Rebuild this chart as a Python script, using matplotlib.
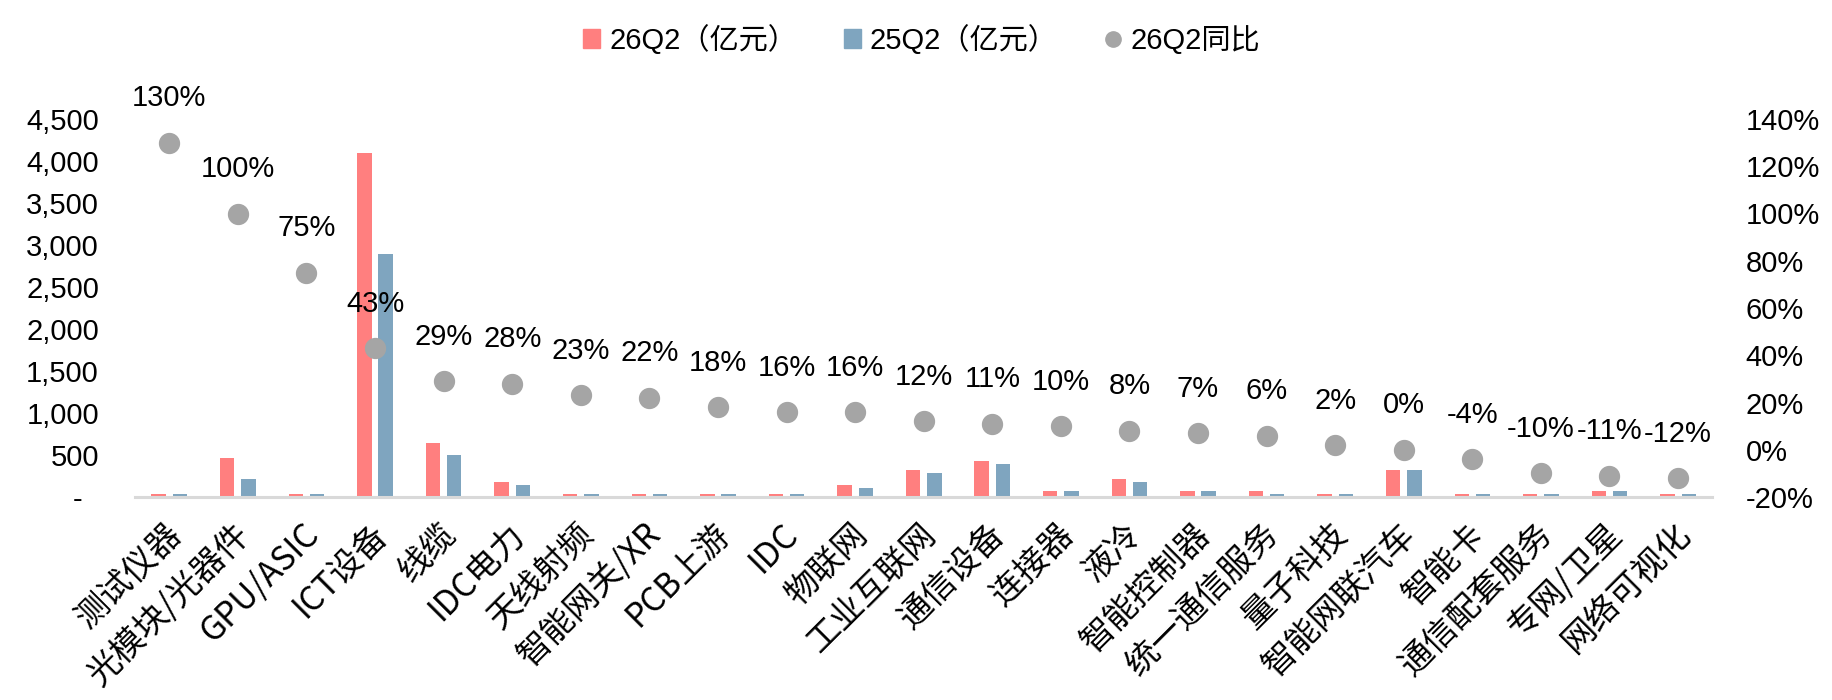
import matplotlib

matplotlib.use("Agg")
import matplotlib.pyplot as plt
import matplotlib.transforms as mtransforms
import numpy as np
from matplotlib.lines import Line2D
from matplotlib.patches import Patch
from matplotlib.ticker import FixedLocator, FuncFormatter

plt.rcParams["font.family"] = ["Liberation Sans", "Noto Sans CJK SC", "DejaVu Sans"]

categories = ["测试仪器", "光模块/光器件", "GPU/ASIC", "ICT设备", "线缆", "IDC电力",
              "天线射频", "智能网关/XR", "PCB上游", "IDC", "物联网", "工业互联网",
              "通信设备", "连接器", "液冷", "智能控制器", "统一通信服务", "量子科技",
              "智能网联汽车", "智能卡", "通信配套服务", "专网/卫星", "网络可视化"]
rev_26q2 = [40, 468, 40, 4100, 647, 183, 40, 40, 40, 40, 147, 325,
            433, 75, 218, 75, 75, 40, 325, 40, 40, 75, 40]
rev_25q2 = [40, 218, 40, 2890, 504, 147, 40, 40, 40, 40, 111, 290,
            397, 75, 183, 75, 40, 40, 325, 40, 40, 75, 40]
yoy_26q2 = [1.30, 1.00, 0.75, 0.43, 0.29, 0.28, 0.23, 0.22, 0.18, 0.16, 0.16, 0.12,
            0.11, 0.10, 0.08, 0.07, 0.06, 0.02, 0.00, -0.04, -0.10, -0.11, -0.12]

RED = "#FF7F7F"
BLUE = "#7FA5BF"
GREY = "#A5A5A5"
CJK = ["Noto Sans CJK SC", "DejaVu Sans"]

fig = plt.figure(figsize=(18.32, 7.0), dpi=100)
ax = fig.add_axes([0.0737, 0.29, 0.861, 0.54])
x = np.arange(len(categories))
ax.bar(x - 0.155, rev_26q2, width=0.21, color=RED)
ax.bar(x + 0.155, rev_25q2, width=0.21, color=BLUE)

ax.set_xlim(-0.5, len(categories) - 0.5)
ax.set_ylim(0, 4500)
ax.yaxis.set_major_locator(FixedLocator(np.arange(0, 4501, 500)))
ax.yaxis.set_major_formatter(FuncFormatter(lambda v, _: "-  " if v == 0 else f"{v:,.0f}"))
ax.tick_params(axis="y", length=0, pad=26, labelsize=21)
ax.set_xticks(x)
ax.set_xticklabels(categories, rotation=45, ha="right", va="center",
                   rotation_mode="anchor", family=CJK, fontsize=24)
ax.tick_params(axis="x", length=0, pad=23)
# nudge the slanted labels a little to the right, as in the source chart
shift = mtransforms.ScaledTranslation(5 / 72, 0, fig.dpi_scale_trans)
for lab in ax.get_xticklabels():
    lab.set_transform(lab.get_transform() + shift)
for s in ["top", "left", "right"]:
    ax.spines[s].set_visible(False)
ax.spines["bottom"].set_color("#D9D9D9")
ax.spines["bottom"].set_linewidth(2.2)

ax2 = ax.twinx()
ax2.scatter(x, yoy_26q2, s=205, color=GREY, zorder=3)
for xi, v in zip(x, yoy_26q2):
    ax2.annotate(f"{v:.0%}", (xi, v), xytext=(0, 32), textcoords="offset points",
                 ha="center", va="center", fontsize=21)
ax2.set_ylim(-0.2, 1.4)
ax2.yaxis.set_major_locator(FixedLocator(np.arange(-0.2, 1.41, 0.2)))
ax2.yaxis.set_major_formatter(FuncFormatter(lambda v, _: f"{v:.0%}"))
ax2.tick_params(axis="y", length=0, pad=24, labelsize=21)
for s in ax2.spines.values():
    s.set_visible(False)

handles = [Patch(color=RED), Patch(color=BLUE),
           Line2D([], [], marker="o", linestyle="none", color=GREY, markersize=11)]
fig.legend(handles, ["26Q2（亿元）", "25Q2（亿元）", "26Q2同比"], loc="center",
           bbox_to_anchor=(0.503, 0.943), ncol=3, frameon=False, fontsize=21,
           handlelength=0.6, handleheight=0.6, handletextpad=0.3, columnspacing=1.6)

fig.savefig("out.png", dpi=100)
